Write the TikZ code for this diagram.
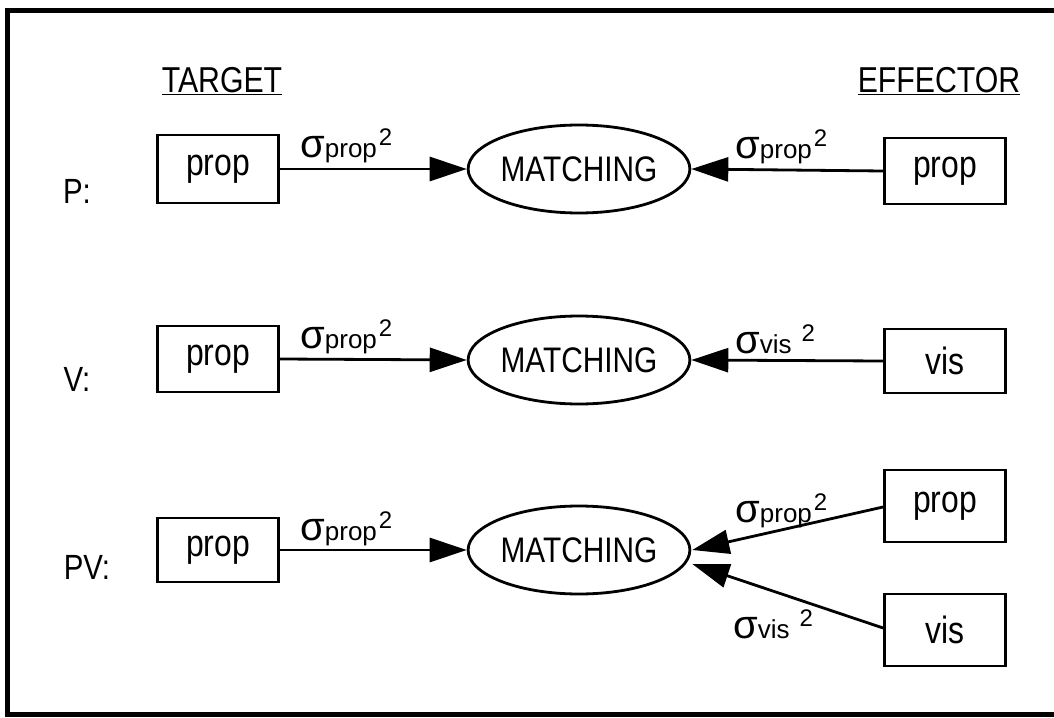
\documentclass[tikz,border=0pt]{standalone}
\usepackage{fontspec}
\setmainfont[FakeStretch=0.84]{Liberation Sans}
\newfontfamily\plainsans{Liberation Sans}
\usetikzlibrary{shapes.geometric,arrows.meta}

% sigma with subscript and squared exponent
\newcommand{\sigsq}[2]{{\fontsize{40}{44}\plainsans σ}{\fontsize{26}{28}\plainsans #1}#2\hspace{2pt}\raisebox{12pt}{\fontsize{24}{26}\plainsans 2}}

\tikzset{
  heading/.style={font=\fontsize{36}{40}\selectfont, inner sep=0pt},
  rowlabel/.style={font=\fontsize{35}{40}\selectfont, inner sep=0pt},
  srcbox/.style={draw, line width=2.8pt, minimum width=121pt, minimum height=68pt, inner sep=0pt, font=\fontsize{38}{42}\selectfont},
  matchnode/.style={draw, ellipse, line width=2.8pt, minimum width=212pt, minimum height=88pt, inner sep=0pt, font=\fontsize{35.5}{40}\selectfont},
  link/.style={line width=2.8pt, -{Triangle[length=37pt,width=24pt]}},
  siglabel/.style={inner sep=0pt, anchor=base west}
}

\begin{document}
\begin{tikzpicture}[x=1pt,y=-1pt]
\useasboundingbox (0,0) rectangle (1054,717);

% outer frame, open on the right
\draw[line width=5pt] (1058,11) -- (7,11) -- (7,714) -- (1058,714);

% column headings
\node[heading] (hT) at (222,81) {\underline{TARGET}};
\node[heading] (hE) at (939,81) {\underline{EFFECTOR}};

% row labels
\node[rowlabel] (lP)  at (77,191) {P:};
\node[rowlabel] (lV)  at (77,379) {V:};
\node[rowlabel] (lPV) at (87,567) {PV:};

% row P
\node[srcbox] (t1) at (218,169) {prop};
\node[matchnode] (m1) at (579,169) {MATCHING};
\node[srcbox, minimum height=66pt] (e1) at (945,171) {prop};
\draw[link] (t1.east) -- (m1.west);
\draw[link] (e1.west) -- (m1.east);
\node[siglabel] (s1a) at (300,157) {\sigsq{prop}{}};
\node[siglabel] (s1b) at (735,158) {\sigsq{prop}{}};

% row V
\node[srcbox, minimum height=66pt] (t2) at (218,359) {prop};
\node[matchnode] (m2) at (579,360) {MATCHING};
\node[srcbox, minimum height=64pt] (e2) at (945,361) {vis};
\draw[link] (t2.east) -- (m2.west);
\draw[link] (e2.west) -- (m2.east);
\node[siglabel] (s2a) at (300,348) {\sigsq{prop}{}};
\node[siglabel] (s2b) at (735,353) {\sigsq{vis}{\hspace{8pt}}};

% row PV
\node[srcbox, minimum height=64pt] (t3) at (218,550) {prop};
\node[matchnode] (m3) at (579,550) {MATCHING};
\node[srcbox, minimum height=72pt] (e3a) at (945,506) {prop};
\node[srcbox, minimum height=72pt] (e3b) at (945,630) {vis};
\draw[link] (t3.east) -- (m3.west);
\draw[link] ([yshift=-1pt]e3a.west) -- ([xshift=1pt]m3.east);
\draw[link] ([yshift=2pt]e3b.west) -- ([xshift=1pt,yshift=-14pt]m3.east);
\node[siglabel] (s3a) at (300,540) {\sigsq{prop}{}};
\node[siglabel] (s3b) at (735,522) {\sigsq{prop}{}};
\node[siglabel] (s3c) at (733,638) {\sigsq{vis}{\hspace{8pt}}};
\end{tikzpicture}
\end{document}
